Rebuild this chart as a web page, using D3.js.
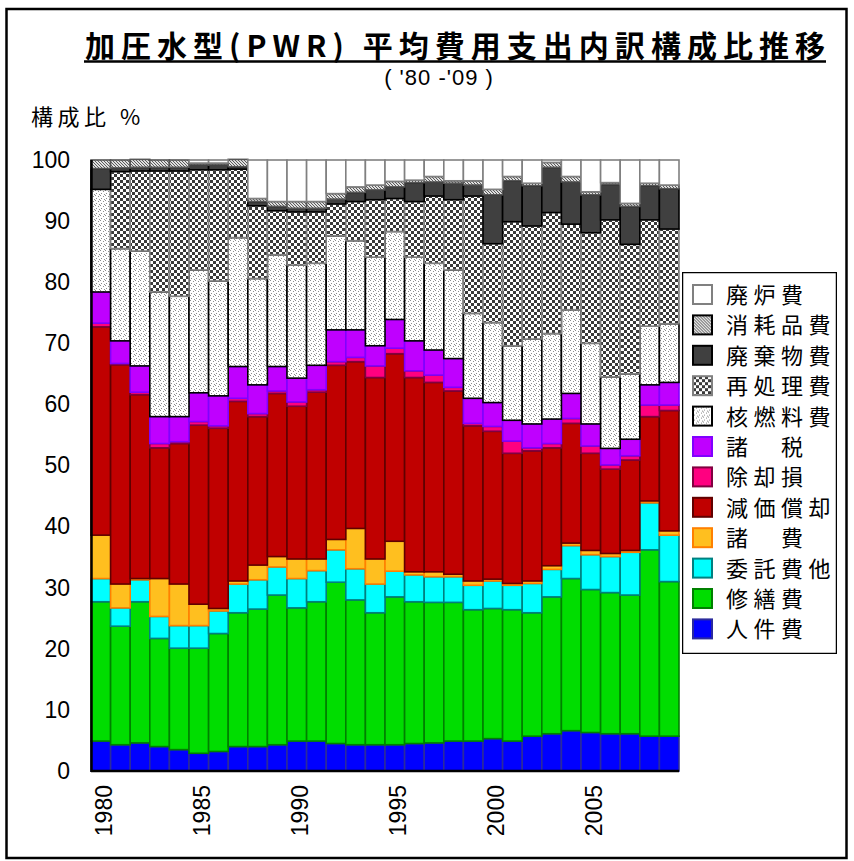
<!DOCTYPE html>
<html>
<head>
<meta charset="utf-8">
<script src="https://cdn.jsdelivr.net/npm/d3@7"></script>
<style>
  body { margin: 0; background: #fff; }
  svg { display: block; }
</style>
</head>
<body>
<svg id="chart"></svg>
<script>
// categories
const years = [1980,1981,1982,1983,1984,1985,1986,1987,1988,1989,1990,1991,1992,1993,1994,
               1995,1996,1997,1998,1999,2000,2001,2002,2003,2004,2005,2006,2007,2008,2009];
const xTickYears = [1980, 1985, 1990, 1995, 2000, 2005];
const yTicks = [0, 10, 20, 30, 40, 50, 60, 70, 80, 90, 100];

// series values (% share), bottom of stack first
const jinken     = [4.9,4.3,4.6,4.0,3.5,2.9,3.2,4.0,4.0,4.3,4.9,4.9,4.5,4.3,4.3,4.3,4.5,4.6,4.9,4.9,5.3,4.9,5.7,6.1,6.6,6.3,6.1,6.1,5.7,5.7];
const shuzen     = [22.8,19.4,23.1,17.7,16.6,17.2,19.3,21.9,22.5,24.5,21.8,22.8,26.4,23.7,21.6,24.2,23.2,23.0,22.7,21.5,21.3,21.5,20.2,22.4,24.9,23.4,23.1,22.7,30.5,25.3];
const itaku      = [3.8,3.0,3.6,3.6,3.7,3.7,3.7,4.7,4.8,4.6,4.8,5.1,5.3,5.1,4.7,4.2,4.4,4.2,4.2,4.0,4.5,4.0,4.8,4.5,5.4,5.7,5.9,7.0,7.7,7.6];
const shohi      = [7.1,3.9,0.2,6.2,6.8,3.5,0.4,0.5,2.4,1.7,3.2,1.9,1.7,6.6,4.1,4.9,0.5,0.8,0.4,0.7,0.3,0.3,0.4,0.6,0.4,0.7,0.5,0.3,0.3,0.7];
const genka      = [34.1,35.9,30.1,21.4,23.0,29.3,29.5,29.4,24.3,26.7,25.0,27.3,28.5,27.3,29.7,30.7,31.8,31.0,30.0,25.4,24.2,21.3,21.3,19.3,19.6,15.9,13.8,14.8,13.8,19.7];
const jokyaku    = [0.6,0.2,0.4,0.7,0.3,0.6,0.4,0.5,0.5,0.4,0.7,0.4,0.6,0.7,1.9,0.9,1.1,1.2,0.6,0.4,0.8,2.0,0.5,0.7,0.8,1.2,0.7,0.7,1.9,0.9];
const shozei     = [5.1,3.7,4.3,4.4,4.1,4.7,4.9,5.2,4.7,4.0,3.9,4.0,5.2,4.5,3.3,4.7,4.9,4.1,4.7,4.1,3.9,3.4,3.9,4.0,4.1,3.6,2.7,2.7,3.3,3.7];
const kakunenryo = [16.8,15.1,18.8,20.4,19.7,20.1,18.8,21.1,17.4,18.3,18.5,16.7,15.4,14.6,14.5,14.4,13.7,14.2,14.5,13.9,13.1,12.2,13.9,14.0,13.7,13.2,11.7,10.7,9.6,9.6];
const saishori   = [0.0,12.6,13.1,19.8,20.5,16.4,18.2,11.2,11.9,7.2,8.7,8.4,5.2,6.4,9.4,5.4,9.1,11.0,11.5,19.2,12.9,20.3,18.5,19.8,14.0,18.1,25.7,21.2,17.4,15.5];
const haikibutsu = [3.4,0.6,0.6,0.6,0.6,0.8,0.8,0.4,0.7,0.7,0.6,0.6,0.8,1.5,1.6,1.9,3.1,2.3,2.7,1.8,8.0,6.7,6.6,7.4,6.9,6.2,5.8,6.2,5.6,6.6];
const shomohin   = [1.4,1.3,1.3,1.2,1.2,0.3,0.3,1.2,0.5,0.8,1.1,1.1,0.9,0.9,0.8,0.9,0.4,0.9,0.4,0.7,0.9,0.7,0.4,0.8,0.9,0.5,0.3,0.5,0.4,0.6];
const hairo      = [0.0,0.0,0.0,0.0,0.0,0.5,0.5,0.0,6.3,6.8,6.8,6.8,5.5,4.4,4.1,3.5,3.3,2.7,3.4,3.4,4.8,2.7,3.8,0.4,2.7,5.2,3.7,7.1,3.8,4.1];

// series: key, legend label, values, fill, outline
const series = [
  {key: "jinken",     label: "人件費",   values: jinken,     fill: "#0000ff",        stroke: "#2b2b9c"},
  {key: "shuzen",     label: "修繕費",   values: shuzen,     fill: "#00dd00",        stroke: "#008000"},
  {key: "itaku",      label: "委託費他", values: itaku,      fill: "#00ffff",        stroke: "#008080"},
  {key: "shohi",      label: "諸　費",   values: shohi,      fill: "#ffbf1f",        stroke: "#ff8000"},
  {key: "genka",      label: "減価償却", values: genka,      fill: "#c00000",        stroke: "#600000"},
  {key: "jokyaku",    label: "除却損",   values: jokyaku,    fill: "#ff0080",        stroke: "#800040"},
  {key: "shozei",     label: "諸　税",   values: shozei,     fill: "#bf00ff",        stroke: "#8000ff"},
  {key: "kakunenryo", label: "核燃料費", values: kakunenryo, fill: "url(#pDots)",    stroke: "#000"},
  {key: "saishori",   label: "再処理費", values: saishori,   fill: "url(#pChecker)", stroke: "#808080"},
  {key: "haikibutsu", label: "廃棄物費", values: haikibutsu, fill: "#404040",        stroke: "#000"},
  {key: "shomohin",   label: "消耗品費", values: shomohin,   fill: "url(#pHatch)",   stroke: "#555"},
  {key: "hairo",      label: "廃炉費",   values: hairo,      fill: "#fff",           stroke: "#808080"}
];

const W = 854, H = 861;
const plot = {left: 91, right: 679, top: 160, bottom: 771};
const cjk = "'Noto Sans CJK JP', 'Noto Sans', sans-serif";
const latin = "'Liberation Sans', Arial, sans-serif";

const svg = d3.select("#chart").attr("width", W).attr("height", H);
svg.append("rect").attr("width", W).attr("height", H).attr("fill", "#fff");

// fill patterns
const defs = svg.append("defs");
const checker = defs.append("pattern").attr("id", "pChecker")
  .attr("patternUnits", "userSpaceOnUse").attr("width", 6).attr("height", 6);
checker.append("rect").attr("width", 6).attr("height", 6).attr("fill", "#fff");
checker.append("rect").attr("width", 3).attr("height", 3).attr("fill", "#3a3a3a");
checker.append("rect").attr("x", 3).attr("y", 3).attr("width", 3).attr("height", 3).attr("fill", "#3a3a3a");

const dots = defs.append("pattern").attr("id", "pDots")
  .attr("patternUnits", "userSpaceOnUse").attr("width", 5).attr("height", 5);
dots.append("rect").attr("width", 5).attr("height", 5).attr("fill", "#fff");
[[0,0],[3,1],[1,3],[4,4]].forEach(p => {
  dots.append("rect").attr("x", p[0]).attr("y", p[1]).attr("width", 1).attr("height", 1).attr("fill", "#8c8c8c");
});

const hatch = defs.append("pattern").attr("id", "pHatch")
  .attr("patternUnits", "userSpaceOnUse").attr("width", 3).attr("height", 3);
hatch.append("rect").attr("width", 3).attr("height", 3).attr("fill", "#e0e0e0");
[[0,0],[1,1],[2,2]].forEach(p => {
  hatch.append("rect").attr("x", p[0]).attr("y", p[1]).attr("width", 1).attr("height", 1).attr("fill", "#5a5a5a");
});

// outer frame
svg.append("rect").attr("x", 6.5).attr("y", 9).attr("width", 840).attr("height", 849)
  .attr("fill", "none").attr("stroke", "#000").attr("stroke-width", 2.5);

// title
svg.append("text").attr("x", 85).attr("y", 57)
  .attr("textLength", 740).attr("lengthAdjust", "spacing")
  .style("font-family", cjk).style("font-size", "30px").style("font-weight", "bold")
  .text("加圧水型(PWR) 平均費用支出内訳構成比推移");
svg.append("line").attr("x1", 84).attr("x2", 826).attr("y1", 61.5).attr("y2", 61.5)
  .attr("stroke", "#000").attr("stroke-width", 2.5);
svg.append("text").attr("x", 439).attr("y", 85).attr("text-anchor", "middle")
  .style("font-family", latin).style("font-size", "22px").style("letter-spacing", "1px")
  .text("( '80 -'09 )");

// y axis title
svg.append("text").attr("x", 31).attr("y", 125)
  .style("font-family", cjk).style("font-size", "22px").style("letter-spacing", "4.5px")
  .text("構成比 %");

// table for stacking
const table = years.map((yr, i) => {
  const row = {year: yr};
  series.forEach(s => { row[s.key] = s.values[i]; });
  return row;
});

const x = d3.scaleBand().domain(years).range([plot.left, plot.right]).padding(0);
const y = d3.scaleLinear().domain([0, 100]).range([plot.bottom, plot.top]);

const stacked = d3.stack().keys(series.map(s => s.key))(table);

const barsG = svg.append("g");
barsG.selectAll("g")
  .data(stacked)
  .enter().append("g")
    .attr("fill", (d, i) => series[i].fill)
    .attr("stroke", (d, i) => series[i].stroke)
    .attr("stroke-width", 1.6)
  .selectAll("rect")
  .data(d => d.filter(p => p[1] - p[0] > 0))
  .enter().append("rect")
    .attr("x", d => x(d.data.year))
    .attr("y", d => y(d[1]))
    .attr("width", x.bandwidth())
    .attr("height", d => y(d[0]) - y(d[1]));

// y axis
const yAxis = svg.append("g").attr("transform", `translate(${plot.left},0)`)
  .call(d3.axisLeft(y).tickValues(yTicks).tickSize(0).tickPadding(21));
yAxis.select(".domain").remove();
yAxis.selectAll("text").style("font-family", latin).style("font-size", "23px").attr("fill", "#000");

// x axis
const xAxis = svg.append("g").attr("transform", `translate(0,${plot.bottom})`)
  .call(d3.axisBottom(x).tickValues(xTickYears).tickSize(0));
xAxis.select(".domain").remove();
xAxis.selectAll("text")
  .attr("transform", "rotate(-90)")
  .attr("x", -14).attr("y", 3).attr("dy", "0.35em")
  .style("text-anchor", "end")
  .style("font-family", latin).style("font-size", "23px").attr("fill", "#000");

// axis lines
svg.append("line").attr("x1", plot.left + 0.5).attr("x2", plot.left + 0.5)
  .attr("y1", plot.top).attr("y2", plot.bottom + 1)
  .attr("stroke", "#000").attr("stroke-width", 2.5);
svg.append("line").attr("x1", plot.left).attr("x2", plot.right)
  .attr("y1", plot.bottom).attr("y2", plot.bottom)
  .attr("stroke", "#000").attr("stroke-width", 2.5);

// legend
const lg = {x: 682, y: 272, w: 155, h: 382};
defs.append("clipPath").attr("id", "legendClip")
  .append("rect").attr("x", lg.x).attr("y", lg.y).attr("width", lg.w).attr("height", lg.h);
const legend = svg.append("g").attr("clip-path", "url(#legendClip)");
legend.append("rect").attr("x", lg.x).attr("y", lg.y).attr("width", lg.w).attr("height", lg.h)
  .attr("fill", "#fff").attr("stroke", "#000").attr("stroke-width", 2.5);

const legendItems = series.slice().reverse();
const item = legend.selectAll("g.item").data(legendItems).enter().append("g")
  .attr("class", "item")
  .attr("transform", (d, i) => `translate(${lg.x + 11},${lg.y + 13 + i * 30.4})`);
item.append("rect").attr("width", 19).attr("height", 19)
  .attr("fill", d => d.fill)
  .attr("stroke", d => (d.key === "shomohin" || d.key === "kakunenryo") ? "#000" : d.stroke)
  .attr("stroke-width", 2);
item.append("text").attr("x", 33).attr("y", 18)
  .style("font-family", cjk).style("font-size", "22px").style("letter-spacing", "5.5px")
  .text(d => d.label);
</script>
</body>
</html>
